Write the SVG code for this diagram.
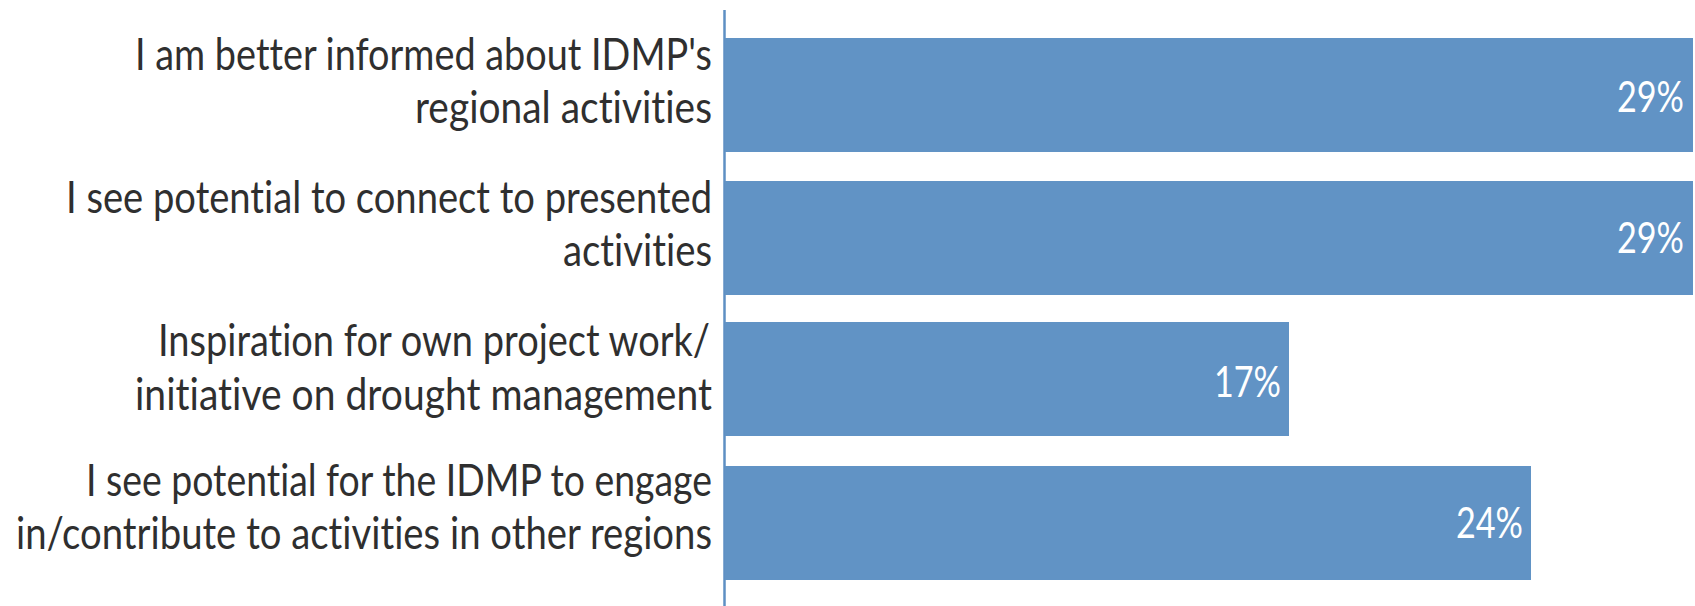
<svg xmlns="http://www.w3.org/2000/svg" width="1695" height="606" viewBox="0 0 1695 606">
<style>
.lbl{font-family:Lato,"Liberation Sans",sans-serif;font-size:44px;fill:#2f2f2f;text-anchor:end;font-variant-ligatures:none}
.val{font-family:Lato,"Liberation Sans",sans-serif;font-size:42px;fill:#ffffff;text-anchor:end}
.bar{fill:#6193c5}
</style>
<rect width="1695" height="606" fill="#ffffff"/>
<g id="axis">
<line x1="724.5" y1="10" x2="724.5" y2="606" stroke="#5e8fc3" stroke-width="2.5"/>
</g>
<g id="bar1">
<rect class="bar" x="725" y="38" width="968" height="114"/>
<text class="val" x="1684" y="112" textLength="67" lengthAdjust="spacingAndGlyphs">29%</text>
<text class="lbl" x="712" y="70" textLength="577" lengthAdjust="spacingAndGlyphs">I am better informed about IDMP's</text>
<text class="lbl" x="712" y="123" textLength="297" lengthAdjust="spacingAndGlyphs">regional activities</text>
</g>
<g id="bar2">
<rect class="bar" x="725" y="181" width="968" height="114"/>
<text class="val" x="1684" y="253" textLength="67" lengthAdjust="spacingAndGlyphs">29%</text>
<text class="lbl" x="712" y="213" textLength="646" lengthAdjust="spacingAndGlyphs">I see potential to connect to presented</text>
<text class="lbl" x="712" y="266" textLength="149" lengthAdjust="spacingAndGlyphs">activities</text>
</g>
<g id="bar3">
<rect class="bar" x="725" y="322" width="564" height="114"/>
<text class="val" x="1281" y="397" textLength="67" lengthAdjust="spacingAndGlyphs">17%</text>
<text class="lbl" x="710" y="356" textLength="552" lengthAdjust="spacingAndGlyphs">Inspiration for own project work/</text>
<text class="lbl" x="712" y="410" textLength="577" lengthAdjust="spacingAndGlyphs">initiative on drought management</text>
</g>
<g id="bar4">
<rect class="bar" x="725" y="466" width="806" height="114"/>
<text class="val" x="1523" y="538" textLength="67" lengthAdjust="spacingAndGlyphs">24%</text>
<text class="lbl" x="712" y="496" textLength="626" lengthAdjust="spacingAndGlyphs">I see potential for the IDMP to engage</text>
<text class="lbl" x="712" y="549" textLength="696" lengthAdjust="spacingAndGlyphs">in/contribute to activities in other regions</text>
</g>
</svg>
